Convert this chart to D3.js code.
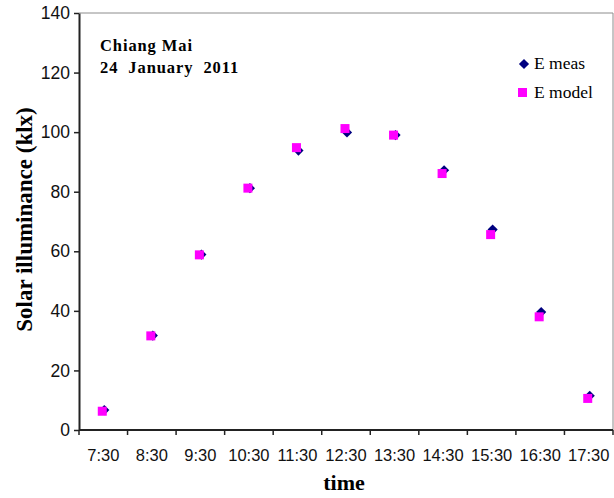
<!DOCTYPE html>
<html>
<head>
<meta charset="utf-8">
<script src="https://cdn.jsdelivr.net/npm/d3@7"></script>
<style>
  body { margin: 0; background: #fff; }
  svg { display: block; }
</style>
</head>
<body>
<div id="chart"></div>
<script>
// --- data ---
const TIMES = ["7:30", "8:30", "9:30", "10:30", "11:30", "12:30", "13:30", "14:30", "15:30", "16:30", "17:30"];
const E_MEAS  = [6.7, 31.7, 58.9, 81.2, 93.8, 99.9, 99.0, 87.2, 67.3, 39.6, 11.5];
const E_MODEL = [6.3, 31.6, 58.8, 81.2, 94.8, 101.2, 99.0, 86.1, 65.6, 38.0, 10.6];
const Y_TICKS = [0, 20, 40, 60, 80, 100, 120, 140];

const W = 614, H = 498;
const margin = { top: 13, right: 1, bottom: 68, left: 79 };
const SERIF = "Liberation Serif, Times New Roman, serif";
const SANS = "Liberation Sans, Arial, sans-serif";

const svg = d3.select("#chart").append("svg")
  .attr("width", W).attr("height", H);

const x = d3.scaleBand()
  .domain(TIMES)
  .range([margin.left, W - margin.right]);

const y = d3.scaleLinear()
  .domain([0, 140])
  .range([H - margin.bottom, margin.top]);

// grey frame on top/right
svg.append("path")
  .attr("d", `M${margin.left},${y(140)}H${W - margin.right}V${y(0)}`)
  .attr("fill", "none")
  .attr("stroke", "#8c8c8c")
  .attr("stroke-width", 1);

// y axis
const yAxis = svg.append("g")
  .attr("transform", `translate(${margin.left},0)`)
  .call(d3.axisLeft(y).tickValues(Y_TICKS).tickSize(5).tickPadding(4).tickSizeOuter(0));
yAxis.select(".domain").attr("stroke", "#222").attr("stroke-width", 2);
yAxis.selectAll(".tick line").attr("stroke", "#222").attr("stroke-width", 1.5);
yAxis.selectAll("text")
  .attr("font-family", SANS)
  .attr("font-size", 17.5).attr("fill", "#111");

// x axis: ticks at band edges, labels at centers
const xAxis = svg.append("g")
  .attr("transform", `translate(0,${y(0)})`);
xAxis.append("line")
  .attr("x1", margin.left).attr("x2", W - margin.right)
  .attr("stroke", "#222").attr("stroke-width", 2);
const edges = TIMES.map(t => x(t)).concat([x(TIMES[TIMES.length - 1]) + x.bandwidth()]);
xAxis.selectAll(".xt").data(edges).enter().append("line")
  .attr("x1", d => d).attr("x2", d => d)
  .attr("y1", 0).attr("y2", 5)
  .attr("stroke", "#222").attr("stroke-width", 1.5);
xAxis.selectAll(".xl").data(TIMES).enter().append("text")
  .attr("x", d => x(d) + x.bandwidth() / 2)
  .attr("y", 30.5)
  .attr("text-anchor", "middle")
  .attr("font-family", SANS)
  .attr("font-size", 16.5).attr("fill", "#111")
  .text(d => d);

// axis titles
svg.append("text")
  .attr("transform", `translate(32,${(y(0) + y(140)) / 2 - 2}) rotate(-90)`)
  .attr("text-anchor", "middle")
  .attr("font-family", SERIF)
  .attr("font-weight", "bold").attr("font-size", 23)
  .text("Solar illuminance (klx)");

svg.append("text")
  .attr("x", 344)
  .attr("y", 490)
  .attr("text-anchor", "middle")
  .attr("font-family", SERIF)
  .attr("font-weight", "bold").attr("font-size", 22)
  .text("time");

// annotation
const note = svg.append("g")
  .attr("font-family", SERIF)
  .attr("font-weight", "bold").attr("font-size", 16.5)
  .attr("letter-spacing", 0.9);
note.append("text").attr("x", 100).attr("y", 51).text("Chiang Mai");
note.append("text").attr("x", 100).attr("y", 73).attr("xml:space", "preserve").text("24  January  2011");

// markers
const cx = d => x(d) + x.bandwidth() / 2;
const diamond = d3.symbol().type(d3.symbolDiamond2).size(66);
svg.selectAll(".meas").data(TIMES).enter().append("path")
  .attr("d", diamond)
  .attr("transform", (d, i) => `translate(${cx(d) + 1},${y(E_MEAS[i])})`)
  .attr("fill", "#000080");

const sq = 9;
svg.selectAll(".model").data(TIMES).enter().append("rect")
  .attr("x", d => cx(d) - 1 - sq / 2)
  .attr("y", (d, i) => y(E_MODEL[i]) - sq / 2)
  .attr("width", sq).attr("height", sq)
  .attr("fill", "#ff00ff");

// legend
const leg = svg.append("g")
  .attr("font-family", SERIF)
  .attr("font-size", 17.5);
leg.append("path").attr("d", diamond).attr("transform", "translate(524,64)").attr("fill", "#000080");
leg.append("text").attr("x", 534).attr("y", 68.5).text("E meas");
leg.append("rect").attr("x", 518).attr("y", 88).attr("width", sq).attr("height", sq).attr("fill", "#ff00ff");
leg.append("text").attr("x", 534).attr("y", 98).text("E model");
</script>
</body>
</html>
